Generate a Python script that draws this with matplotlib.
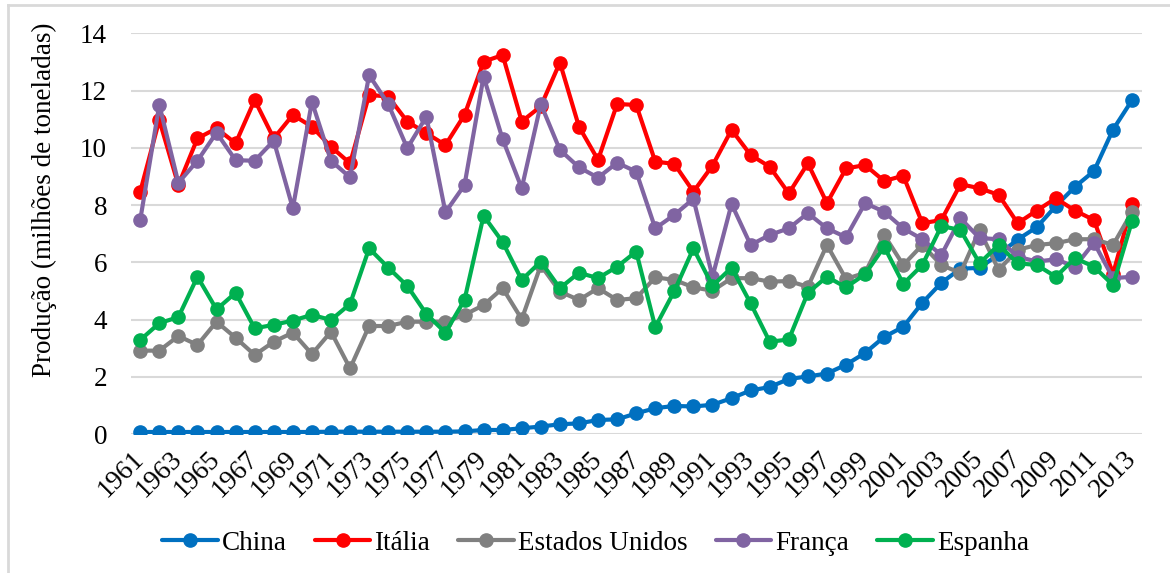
import numpy as np
import matplotlib.pyplot as plt
from matplotlib.lines import Line2D

plt.rcParams['font.family'] = ['Liberation Serif', 'DejaVu Serif']

years = np.arange(1961, 2014)

china = [0.08, 0.08, 0.08, 0.08, 0.08, 0.08, 0.08, 0.08, 0.08, 0.08,
         0.09, 0.09, 0.09, 0.09, 0.09, 0.09, 0.09, 0.1, 0.15, 0.15,
         0.21, 0.27, 0.35, 0.38, 0.5, 0.52, 0.73, 0.91, 0.99, 0.97,
         1.03, 1.26, 1.53, 1.65, 1.93, 2.02, 2.12, 2.43, 2.84, 3.4,
         3.75, 4.59, 5.29, 5.78, 5.81, 6.28, 6.8, 7.23, 7.97, 8.64,
         9.19, 10.64, 11.67]
italia = [8.47, 10.97, 8.7, 10.33, 10.68, 10.16, 11.67, 10.33, 11.15, 10.74,
          10.04, 9.46, 11.85, 11.79, 10.92, 10.51, 10.1, 11.15, 13.01, 13.24,
          10.92, 11.45, 12.98, 10.74, 9.58, 11.53, 11.5, 9.52, 9.44, 8.47,
          9.38, 10.63, 9.75, 9.34, 8.41, 9.46, 8.07, 9.28, 9.4, 8.84,
          9.03, 7.37, 7.48, 8.73, 8.59, 8.36, 7.37, 7.81, 8.24, 7.81,
          7.48, 5.6, 8.04]
eua = [2.92, 2.92, 3.43, 3.12, 3.93, 3.37, 2.77, 3.23, 3.55, 2.8,
       3.58, 2.3, 3.78, 3.78, 3.93, 3.93, 3.93, 4.17, 4.51, 5.1,
       4.02, 5.9, 4.98, 4.69, 5.1, 4.69, 4.75, 5.48, 5.39, 5.13,
       5.01, 5.45, 5.45, 5.33, 5.35, 5.15, 6.61, 5.42, 5.64, 6.96,
       5.91, 6.61, 5.91, 5.63, 7.13, 5.74, 6.44, 6.61, 6.67, 6.81,
       6.81, 6.61, 7.77]
franca = [7.48, 11.5, 8.78, 9.55, 10.53, 9.57, 9.55, 10.25, 7.89, 11.61,
          9.55, 8.97, 12.54, 11.53, 9.99, 11.09, 7.75, 8.7, 12.49, 10.3,
          8.59, 11.53, 9.93, 9.32, 8.96, 9.48, 9.17, 7.19, 7.66, 8.22,
          5.5, 8.04, 6.61, 6.96, 7.19, 7.72, 7.19, 6.88, 8.07, 7.77,
          7.19, 6.81, 6.26, 7.54, 6.85, 6.81, 6.2, 6.03, 6.11, 5.85,
          6.69, 5.45, 5.5]
espanha = [3.29, 3.88, 4.09, 5.5, 4.36, 4.94, 3.7, 3.82, 3.97, 4.17,
           3.99, 4.55, 6.49, 5.82, 5.18, 4.2, 3.55, 4.69, 7.63, 6.71,
           5.39, 6.03, 5.1, 5.64, 5.45, 5.85, 6.38, 3.74, 5.0, 6.49,
           5.18, 5.82, 4.57, 3.23, 3.31, 4.94, 5.5, 5.13, 5.59, 6.55,
           5.25, 5.91, 7.27, 7.13, 5.97, 6.61, 5.97, 5.91, 5.5, 6.15,
           5.85, 5.21, 7.46]

series = [
    ("China", china, "#0070C0"),
    ("Itália", italia, "#FF0000"),
    ("Estados Unidos", eua, "#808080"),
    ("França", franca, "#8064A2"),
    ("Espanha", espanha, "#00B050"),
]

fs = 19.5

fig = plt.figure(figsize=(11.7, 5.73), dpi=100)
ax = fig.add_axes([0.1117, 0.2421, 0.8641, 0.6998])

for name, vals, color in series:
    ax.plot(years, vals, color=color, lw=3, marker="o", ms=9.5, label=name,
            solid_capstyle="round")

ax.set_xlim(1960.5, 2013.5)
ax.set_ylim(0, 14)
ax.set_yticks(np.arange(0, 15, 2))
ax.set_xticks(years[::2])
ax.set_xticklabels([str(y) for y in years[::2]], rotation=45, ha="right",
                   va="center", rotation_mode="anchor")
ax.tick_params(axis="x", length=0, pad=15, labelsize=fs)
ax.tick_params(axis="y", length=0, pad=17, labelsize=fs)
ax.grid(axis="y", color="#d9d9d9", lw=1.5)
ax.set_axisbelow(True)
for s in ax.spines.values():
    s.set_visible(False)

fig.text(44 / 1170, 1 - 200 / 573, "Produção (milhões de toneladas)",
         rotation=90, ha="center", va="center", fontsize=fs)

fig.legend(loc="center", bbox_to_anchor=(0.509, 0.052), ncol=5, frameon=False,
           fontsize=fs, handlelength=2.05, handletextpad=0.15,
           columnspacing=1.04)

# chart frame (left and top edges)
fig.add_artist(Line2D([8 / 1170, 8 / 1170], [0, 1 - 5 / 573],
                      transform=fig.transFigure, color="#d9d9d9", lw=2))
fig.add_artist(Line2D([8 / 1170, 1], [1 - 5 / 573, 1 - 5 / 573],
                      transform=fig.transFigure, color="#d9d9d9", lw=2))

fig.savefig("out.png", dpi=100)
